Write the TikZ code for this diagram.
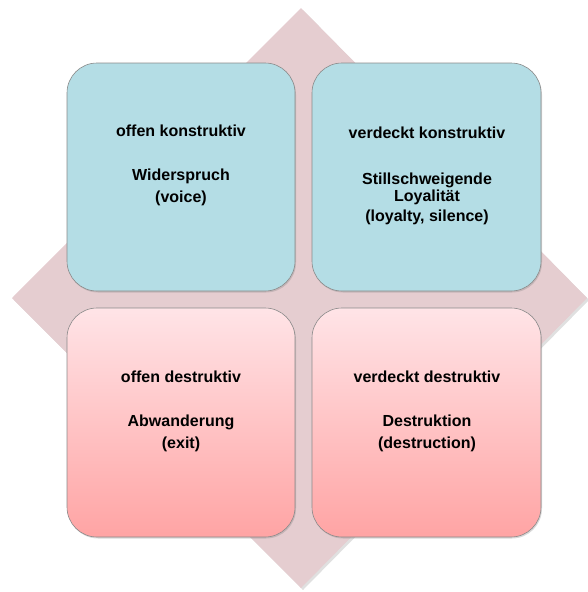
\documentclass[tikz,border=0pt]{standalone}
\usepackage{fontspec}
\setmainfont{Liberation Sans}
\usetikzlibrary{shadows}
\definecolor{diamondfill}{HTML}{E5CDD0}
\definecolor{bluefill}{HTML}{B4DDE5}
\definecolor{pinktop}{HTML}{FFE4E7}
\definecolor{pinkbottom}{HTML}{FFA4A4}
\definecolor{boxedge}{HTML}{8A8A8A}
\begin{document}
\begin{tikzpicture}[x=1pt,y=-1pt,
  quadbox/.style={draw=boxedge, line width=0.6pt, rounded corners=30pt,
    drop shadow={opacity=0.3, shadow xshift=1pt, shadow yshift=-1.5pt}},
  bluebox/.style={quadbox, fill=bluefill},
  pinkbox/.style={quadbox, top color=pinktop, bottom color=pinkbottom},
  txt/.style={anchor=base, inner sep=0pt, font=\fontsize{16}{18}\selectfont\bfseries}
]
\useasboundingbox (0,0) rectangle (588,592);

% background diamond
\fill[black, opacity=0.12] (303,10) -- (589,300) -- (303,590) -- (14,300) -- cycle;
\fill[diamondfill] (301,8) -- (587,298) -- (301,588) -- (12,298) -- cycle;

% four quadrant boxes
\path[bluebox] (67,63) rectangle (295,291);
\path[bluebox] (312,63) rectangle (541,291);
\path[pinkbox] (67,308) rectangle (295,537);
\path[pinkbox] (312,308) rectangle (541,537);

% top left
\node[txt] (tl1) at (181,136.7) {offen konstruktiv};
\node[txt] (tl2) at (181,180.7) {Widerspruch};
\node[txt] (tl3) at (181,202.5) {(voice)};

% top right
\node[txt] (tr1) at (427,138.5) {verdeckt konstruktiv};
\node[txt] (tr2) at (427,184.7) {Stillschweigende};
\node[txt] (tr3) at (427,201.3) {Loyalität};
\node[txt] (tr4) at (427,221.5) {(loyalty, silence)};

% bottom left
\node[txt] (bl1) at (181,382) {offen destruktiv};
\node[txt] (bl2) at (181,426.7) {Abwanderung};
\node[txt] (bl3) at (181,448.5) {(exit)};

% bottom right
\node[txt] (br1) at (427,382) {verdeckt destruktiv};
\node[txt] (br2) at (427,426.7) {Destruktion};
\node[txt] (br3) at (427,448.5) {(destruction)};
\end{tikzpicture}
\end{document}
